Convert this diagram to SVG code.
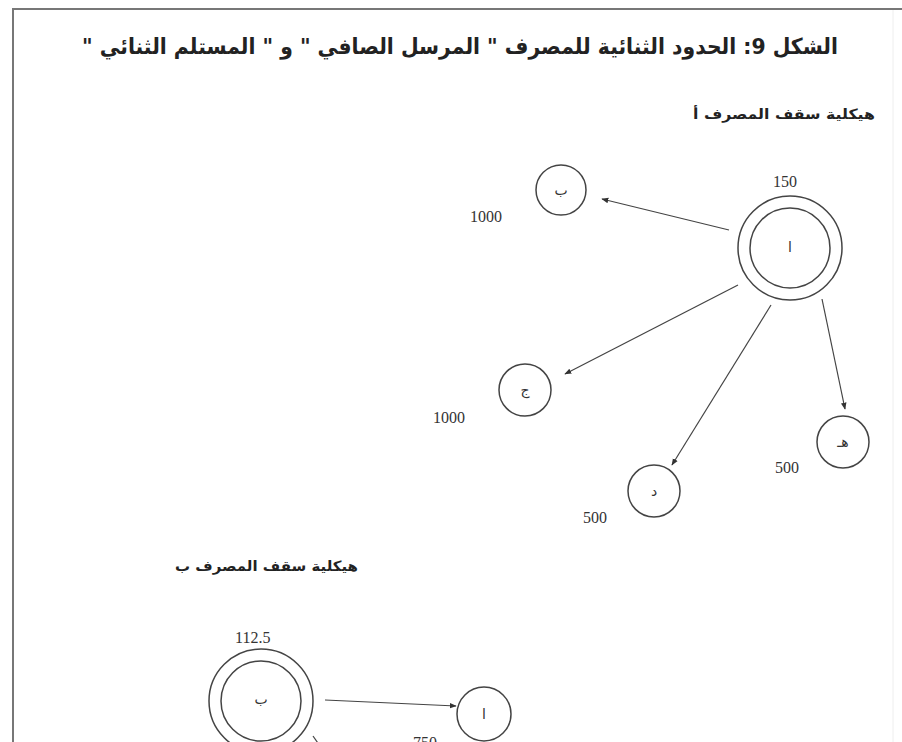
<svg xmlns="http://www.w3.org/2000/svg" width="902" height="742" viewBox="0 0 902 742">
<style>
.ar{font-family:"DejaVu Sans","Noto Sans",sans-serif;fill:#222;direction:rtl;unicode-bidi:embed}
.num{font-family:"Liberation Serif",serif;font-size:16px;fill:#333}
.c{fill:none;stroke:#444;stroke-width:1.5}
.e{stroke:#444;stroke-width:1.2;fill:none;marker-end:url(#ah)}
.lt{font-family:"DejaVu Sans",sans-serif;font-size:14px;fill:#333;text-anchor:middle}
</style>
<defs>
<marker id="ah" viewBox="0 0 10 10" refX="9" refY="5" markerWidth="7" markerHeight="7" orient="auto" markerUnits="userSpaceOnUse">
<path d="M0,1 L10,5 L0,9 Z" fill="#333"/>
</marker>
</defs>
<rect width="902" height="742" fill="#fff"/>
<g id="frame">
<line x1="13" y1="9" x2="13" y2="742" stroke="#777" stroke-width="2"/>
<line x1="12" y1="9" x2="902" y2="9" stroke="#777" stroke-width="2"/>
<line x1="893" y1="10" x2="893" y2="742" stroke="#eee" stroke-width="1"/>
</g>
<text id="title" class="ar" x="838" y="54" font-size="22" font-weight="bold" text-anchor="start" textLength="756" lengthAdjust="spacingAndGlyphs">الشكل 9: الحدود الثنائية للمصرف " المرسل الصافي " و " المستلم الثنائي "</text>
<text id="capA" class="ar" x="875" y="119" font-size="14" font-weight="bold" text-anchor="start" textLength="182" lengthAdjust="spacingAndGlyphs">هيكلية سقف المصرف أ</text>
<text id="capB" class="ar" x="358" y="571" font-size="14" font-weight="bold" text-anchor="start" textLength="183" lengthAdjust="spacingAndGlyphs">هيكلية سقف المصرف ب</text>
<g id="connectors">
<line class="e" x1="729" y1="230" x2="602" y2="199"/>
<line class="e" x1="738" y1="285" x2="565" y2="374"/>
<line class="e" x1="771" y1="305" x2="672" y2="465"/>
<line class="e" x1="822" y1="299" x2="845" y2="409"/>
<line class="e" x1="325" y1="700" x2="456" y2="706"/>
<line stroke="#444" stroke-width="1.2" x1="313" y1="736" x2="320" y2="746"/>
</g>
<g id="nodeA">
<circle class="c" cx="790" cy="248" r="52"/>
<circle class="c" cx="790" cy="248" r="40"/>
<text class="lt" x="790" y="252">ا</text>
<text class="num" x="773" y="187">150</text>
</g>
<g id="nodeBa">
<circle class="c" cx="561" cy="190" r="25"/>
<text class="lt" x="561" y="195">ب</text>
<text class="num" x="470" y="222">1000</text>
</g>
<g id="nodeJ">
<circle class="c" cx="525" cy="390" r="26"/>
<text class="lt" x="525" y="395">ج</text>
<text class="num" x="433" y="423">1000</text>
</g>
<g id="nodeD">
<circle class="c" cx="654" cy="491" r="26"/>
<text class="lt" x="654" y="496">د</text>
<text class="num" x="583" y="523">500</text>
</g>
<g id="nodeH">
<circle class="c" cx="843" cy="442" r="26"/>
<text class="lt" x="843" y="447">هـ</text>
<text class="num" x="775" y="473">500</text>
</g>
<g id="nodeB">
<circle class="c" cx="261" cy="701" r="52"/>
<circle class="c" cx="261" cy="701" r="40"/>
<text class="lt" x="261" y="704">ب</text>
<text class="num" x="235" y="643">112.5</text>
</g>
<g id="nodeAb">
<circle class="c" cx="484" cy="714" r="27"/>
<text class="lt" x="484" y="719">ا</text>
<text class="num" x="413" y="748">750</text>
</g>
</svg>
